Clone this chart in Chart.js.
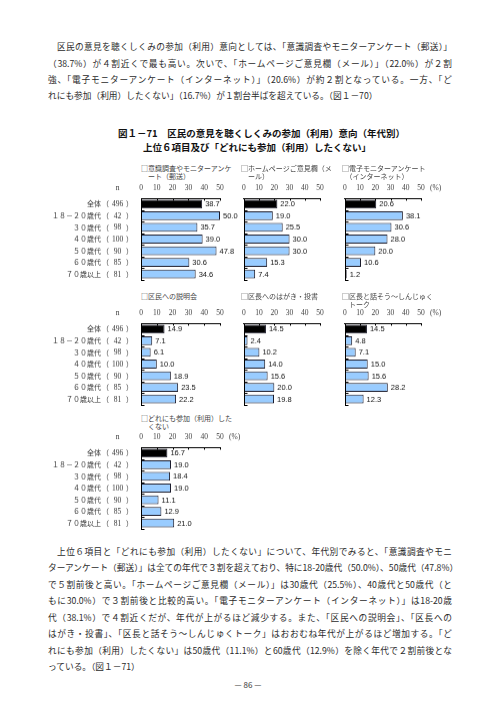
<!DOCTYPE html>
<html><head><meta charset="utf-8">
<script src="https://cdn.jsdelivr.net/npm/chart.js@4"></script>
<style>
html,body{margin:0;padding:0;background:#fff;}
body{width:496px;height:702px;position:relative;overflow:hidden;font-family:"Noto Sans CJK JP",sans-serif;color:#2a2a2a;}
.ln{position:absolute;left:48px;width:404px;font-size:8.7px;line-height:12px;height:12px;white-space:nowrap;text-align:justify;text-align-last:justify;}
.ln.last{text-align:left;text-align-last:left;}
.ttl{position:absolute;font-size:9.5px;font-weight:700;line-height:12px;white-space:nowrap;color:#111;}
.hd{position:absolute;font-size:7px;line-height:8px;white-space:pre;color:#444;}
.pg{position:absolute;left:0;width:496px;text-align:center;font-size:8px;line-height:10px;top:680px;color:#333;}
canvas{position:absolute;}
</style></head>
<body>
<div id="page"></div>
<script>
// ---------- data ----------
const groups = ["全体","１８－２０歳代","３０歳代","４０歳代","５０歳代","６０歳代","７０歳以上"];
const sampleSizes = ["496","42","98","100","90","85","81"];
const axisTicks = [0,10,20,30,40,50];
const itemNames = [
  ["□意識調査やモニターアンケ","　ート（郵送）"],
  ["□ホームページご意見欄（メ","　ール）"],
  ["□電子モニターアンケート","　（インターネット）"],
  ["□区民への説明会"],
  ["□区長へのはがき・投書"],
  ["□区長と話そう～しんじゅく","　トーク"],
  ["□どれにも参加（利用）した","　くない"]
];
const mailSurvey      = [38.7,50.0,35.7,39.0,47.8,30.6,34.6];
const homepageMail    = [22.0,19.0,25.5,30.0,30.0,15.3,7.4];
const internetMonitor = [20.6,38.1,30.6,28.0,20.0,10.6,1.2];
const briefing        = [14.9,7.1,6.1,10.0,18.9,23.5,22.2];
const postcard        = [14.5,2.4,10.2,14.0,15.6,20.0,19.8];
const talkSession     = [14.5,4.8,7.1,15.0,15.6,28.2,12.3];
const noneAtAll       = [16.7,19.0,18.4,19.0,11.1,12.9,21.0];

const para1 = [
  "　区民の意見を聴くしくみの参加（利用）意向としては、「意識調査やモニターアンケート（郵送）」",
  "（38.7%）が４割近くで最も高い。次いで、「ホームページご意見欄（メール）」（22.0%）が２割",
  "強、「電子モニターアンケート（インターネット）」（20.6%）が約２割となっている。一方、「ど",
  "れにも参加（利用）したくない」（16.7%）が１割台半ばを超えている。（図１－70）"
];
const para2 = [
  "　上位６項目と「どれにも参加（利用）したくない」について、年代別でみると、「意識調査やモニ",
  "ターアンケート（郵送）」は全ての年代で３割を超えており、特に18-20歳代（50.0%）、50歳代（47.8%）",
  "で５割前後と高い。「ホームページご意見欄（メール）」は30歳代（25.5%）、40歳代と50歳代（と",
  "もに30.0%）で３割前後と比較的高い。「電子モニターアンケート（インターネット）」は18-20歳",
  "代（38.1%）で４割近くだが、年代が上がるほど減少する。また、「区民への説明会」、「区長への",
  "はがき・投書」、「区長と話そう～しんじゅくトーク」はおおむね年代が上がるほど増加する。「ど",
  "れにも参加（利用）したくない」は50歳代（11.1%）と60歳代（12.9%）を除く年代で２割前後とな",
  "っている。（図１－71）"
];
const titleLines = ["図１－71　区民の意見を聴くしくみの参加（利用）意向（年代別）","上位６項目及び「どれにも参加（利用）したくない」"];
const pageNo = "— 86 —";

// ---------- layout ----------
const page = document.getElementById('page');
function addDiv(cls, text, left, top){
  const d=document.createElement('div'); d.className=cls; d.textContent=text;
  if(left!==null) d.style.left=left+'px'; d.style.top=top+'px'; page.appendChild(d); return d;
}
const P1Y=[47,64,80,96], P2Y=[552,568,585,601,618,634,651,667];
para1.forEach((t,i)=>addDiv('ln'+(i===para1.length-1?' last':''),t,null,P1Y[i]-6));
para2.forEach((t,i)=>addDiv('ln'+(i===para2.length-1?' last':''),t,null,P2Y[i]-6));
addDiv('ttl',titleLines[0],118,127);
addDiv('ttl',titleLines[1],143,141);
addDiv('pg',pageNo,null,680);

const COLX=[141,241,342];           // pixel of value 0 in each column
const ROWTOP=[198,323,447];         // pixel of the top axis line in each row
const PLOTW=79, PLOTH=81.5, AXH=14;
const HEADY=[164,292,414];

const panels=[
  {data:mailSurvey,col:0,row:0,labels:true},
  {data:homepageMail,col:1,row:0},
  {data:internetMonitor,col:2,row:0,unit:true},
  {data:briefing,col:0,row:1,labels:true},
  {data:postcard,col:1,row:1},
  {data:talkSession,col:2,row:1,unit:true},
  {data:noneAtAll,col:0,row:2,labels:true,unit:true}
];

const decor={
  id:'decor',
  afterDraw(chart,args,o){
    const ctx=chart.ctx, ca=chart.chartArea, xs=chart.scales.x, ys=chart.scales.y;
    ctx.save();
    ctx.strokeStyle='#000'; ctx.lineWidth=1;
    const lx=Math.round(ca.left)+0.5;
    ctx.beginPath();
    ctx.moveTo(lx,ca.top); ctx.lineTo(lx,ca.bottom+1);
    xs.ticks.forEach(t=>{const x=Math.round(xs.getPixelForValue(t.value))+0.5; ctx.moveTo(x,ca.top); ctx.lineTo(x,ca.top+2.5);});
    for(let i=0;i<=groups.length;i++){const y=Math.round(ys.getPixelForValue(i-0.5))+0.5; ctx.moveTo(lx,y); ctx.lineTo(lx+3,y);}
    ctx.stroke();
    const meta=chart.getDatasetMeta(0), vals=chart.data.datasets[0].data;
    ctx.font='7.5px "Liberation Sans Narrow","Liberation Sans",sans-serif';
    ctx.fillStyle='#111'; ctx.textBaseline='middle'; ctx.textAlign='left';
    meta.data.forEach((b,i)=>ctx.fillText(vals[i].toFixed(1),b.x+3,b.y+0.5));
    const ly=ca.top-9.5;
    if(o.labels){
      ctx.fillStyle='#333';
      groups.forEach((g,i)=>{
        const y=ys.getPixelForValue(i);
        ctx.font='7px "Noto Sans CJK JP",sans-serif';
        ctx.textAlign='right'; ctx.fillText(g,ca.left-40,y);
        ctx.fillText('（',ca.left-32,y);
        ctx.textAlign='left'; ctx.fillText('）',ca.left-15,y);
        ctx.font='7.5px "Liberation Serif",serif'; ctx.textAlign='center';
        ctx.fillText(sampleSizes[i],ca.left-23.5,y+0.5);
      });
      ctx.font='7.5px "Liberation Serif",serif'; ctx.textAlign='center';
      ctx.fillText('n',ca.left-23.5,ly);
    }
    if(o.unit){
      ctx.fillStyle='#444'; ctx.font='7.5px "Liberation Serif",serif'; ctx.textAlign='left';
      ctx.fillText('(%)',xs.getPixelForValue(50)+9,ly);
    }
    ctx.restore();
  }
};

panels.forEach((p,k)=>{
  const padL = p.col===0 ? 101 : 4, padR=24;
  const cv=document.createElement('canvas');
  const W=padL+PLOTW+padR, H=AXH+PLOTH+3;
  cv.width=W; cv.height=H;
  cv.style.left=(COLX[p.col]-padL)+'px'; cv.style.top=(ROWTOP[p.row]-AXH)+'px';
  cv.style.width=W+'px'; cv.style.height=H+'px';
  page.appendChild(cv);
  addDiv('hd',itemNames[k].join('\n'),COLX[p.col],HEADY[p.row]);
  new Chart(cv,{
    type:'bar',
    data:{labels:groups,datasets:[{data:p.data,
      backgroundColor:p.data.map((v,i)=>i===0?'#000000':'#99CCFF'),
      borderColor:'#1a1a2a',borderWidth:1,borderSkipped:false,
      barPercentage:0.76,categoryPercentage:1}]},
    options:{
      indexAxis:'y',responsive:false,animation:false,devicePixelRatio:1,
      layout:{padding:{left:padL,right:padR,top:0,bottom:3}},
      plugins:{legend:{display:false},tooltip:{enabled:false},title:{display:false},
        decor:{labels:!!p.labels,unit:!!p.unit}},
      scales:{
        x:{type:'linear',position:'top',min:0,max:50,
          afterBuildTicks:s=>{s.ticks=axisTicks.map(v=>({value:v}));},
          afterFit:s=>{s.height=AXH;},
          ticks:{padding:5,color:'#444',font:{family:'"Liberation Serif",serif',size:7.5},maxRotation:0,autoSkip:false},
          grid:{display:false,drawTicks:false},
          border:{display:true,color:'#000',width:1}},
        y:{display:false,offset:true}
      }
    },
    plugins:[decor]
  });
});
</script>
</body></html>
